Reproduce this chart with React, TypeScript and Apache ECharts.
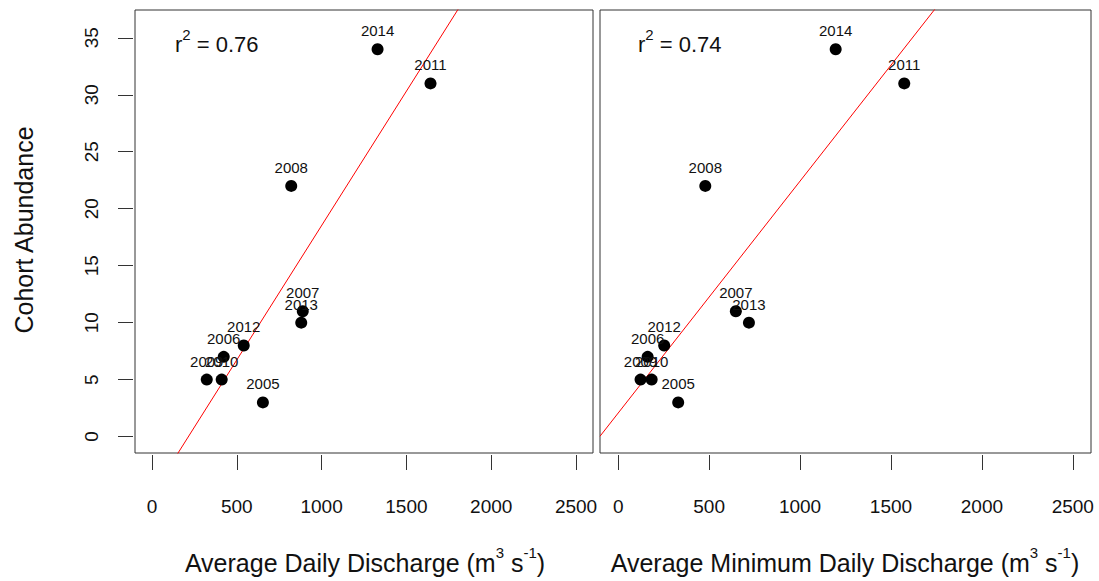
import React, { useEffect, useRef } from "react";
import * as echarts from "echarts";

// Cohort abundance per year against two discharge measures
const years = [2005, 2006, 2007, 2008, 2009, 2010, 2011, 2012, 2013, 2014];
const abundance = [3, 7, 11, 22, 5, 5, 31, 8, 10, 34];
const avgDailyDischarge = [654, 423, 889, 821, 323, 411, 1642, 541, 880, 1330];
const avgMinDailyDischarge = [330, 162, 647, 479, 123, 184, 1573, 253, 719, 1196];
const rSquaredLabels = ["0.76", "0.74"];

const xTicks = [0, 500, 1000, 1500, 2000, 2500];
const yTicks = [0, 5, 10, 15, 20, 25, 30, 35];
const X_MIN = -100;
const X_MAX = 2600;
const Y_MIN = -1.44;
const Y_MAX = 37.44;

const FONT = "'Liberation Sans', Arial, Helvetica, sans-serif";
const INK = "#111";
const TICK = "#333";

// ordinary least-squares fit y = a + b x
function fit(xs: number[], ys: number[]) {
  const n = xs.length;
  const mx = xs.reduce((s, v) => s + v, 0) / n;
  const my = ys.reduce((s, v) => s + v, 0) / n;
  let sxy = 0;
  let sxx = 0;
  for (let i = 0; i < n; i++) {
    sxy += (xs[i] - mx) * (ys[i] - my);
    sxx += (xs[i] - mx) * (xs[i] - mx);
  }
  const b = sxy / sxx;
  return { a: my - b * mx, b };
}

function panelSeries(xs: number[], idx: number) {
  const { a, b } = fit(xs, abundance);
  return [
    {
      type: "line",
      xAxisIndex: idx,
      yAxisIndex: idx,
      data: [
        [X_MIN, a + b * X_MIN],
        [X_MAX, a + b * X_MAX],
      ],
      showSymbol: false,
      symbol: "none",
      clip: true,
      lineStyle: { color: "#ff0000", width: 1 },
      silent: true,
      z: 1,
    },
    {
      type: "scatter",
      xAxisIndex: idx,
      yAxisIndex: idx,
      data: xs.map((x, i) => [x, abundance[i], years[i]]),
      symbol: "circle",
      symbolSize: 12,
      itemStyle: { color: "#000", opacity: 1 },
      label: {
        show: true,
        position: "top",
        distance: 5,
        formatter: (p: any) => String(p.value[2]),
        fontFamily: FONT,
        fontSize: 15,
        color: INK,
      },
      z: 2,
    },
  ];
}

function xAxisFor(idx: number) {
  return {
    type: "value",
    gridIndex: idx,
    min: X_MIN,
    max: X_MAX,
    offset: 2,
    axisLine: { show: false, onZero: false },
    splitLine: { show: false },
    axisTick: {
      show: true,
      length: 15,
      customValues: xTicks,
      lineStyle: { color: TICK, width: 1 },
    },
    axisLabel: {
      show: true,
      customValues: xTicks,
      formatter: (v: number) => String(v),
      margin: 42,
      fontFamily: FONT,
      fontSize: 19,
      color: INK,
    },
  };
}

function yAxisFor(idx: number, visible: boolean) {
  return {
    type: "value",
    gridIndex: idx,
    min: Y_MIN,
    max: Y_MAX,
    offset: 2,
    axisLine: { show: false, onZero: false },
    splitLine: { show: false },
    axisTick: {
      show: visible,
      length: 15,
      customValues: yTicks,
      lineStyle: { color: TICK, width: 1 },
    },
    axisLabel: {
      show: visible,
      customValues: yTicks,
      formatter: (v: number) => String(v),
      rotate: 90,
      margin: 32,
      fontFamily: FONT,
      fontSize: 19,
      color: INK,
    },
  };
}

const supRich = {
  sup: {
    fontFamily: FONT,
    fontSize: 15,
    verticalAlign: "top",
    fill: INK,
  },
};

function richText(x: number, y: number, text: string, size: number, lh: number, align: string, rotation = 0) {
  return {
    type: "text",
    x,
    y,
    rotation,
    silent: true,
    style: {
      text,
      fontFamily: FONT,
      fontSize: size,
      lineHeight: lh,
      fill: INK,
      align,
      verticalAlign: "middle",
      rich: supRich,
    },
  };
}

export default function App() {
  const ref = useRef<HTMLDivElement>(null);

  useEffect(() => {
    if (!ref.current) return;
    const chart = echarts.init(ref.current, undefined, { renderer: "svg" });
    chart.setOption({
      animation: false,
      backgroundColor: "#fff",
      grid: [
        { left: 135, top: 10, width: 458, height: 443, show: true, borderColor: TICK, borderWidth: 1, backgroundColor: "transparent", containLabel: false },
        { left: 600, top: 10, width: 491, height: 443, show: true, borderColor: TICK, borderWidth: 1, backgroundColor: "transparent", containLabel: false },
      ],
      xAxis: [xAxisFor(0), xAxisFor(1)],
      yAxis: [yAxisFor(0, true), yAxisFor(1, false)],
      series: [...panelSeries(avgDailyDischarge, 0), ...panelSeries(avgMinDailyDischarge, 1)],
      graphic: [
        richText(175, 44, `r{sup|2} = ${rSquaredLabels[0]}`, 22, 34, "left"),
        richText(638, 44, `r{sup|2} = ${rSquaredLabels[1]}`, 22, 34, "left"),
        richText(365, 563, "Average Daily Discharge (m{sup|3} s{sup|-1})", 25, 36, "center"),
        richText(845, 563, "Average Minimum Daily Discharge (m{sup|3} s{sup|-1})", 25, 36, "center"),
        richText(24, 230, "Cohort Abundance", 25, 30, "center", Math.PI / 2),
      ],
    });
    return () => chart.dispose();
  }, []);

  return (
    <div
      ref={ref}
      style={{ position: "fixed", left: 0, top: 0, width: 1099, height: 581, background: "#fff" }}
    />
  );
}
